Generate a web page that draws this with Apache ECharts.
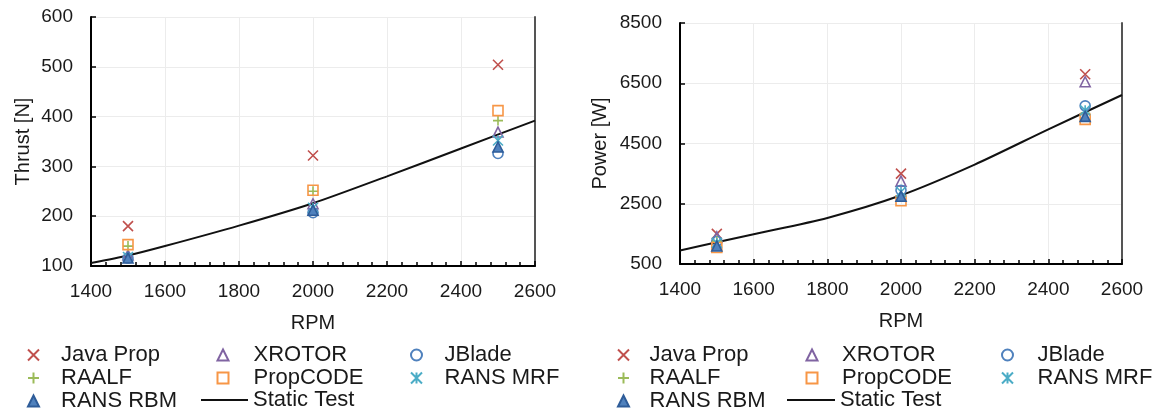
<!DOCTYPE html>
<html>
<head>
<meta charset="utf-8">
<script src="https://cdn.jsdelivr.net/npm/echarts@6/dist/echarts.min.js"></script>
<style>
html,body{margin:0;padding:0;background:#fff;}
#c{width:1159px;height:414px;}
</style>
</head>
<body>
<div id="c"></div>
<script>
// ---------- data ----------
const rpmPoints = [1500, 2000, 2500];
const xTicks = [1400, 1600, 1800, 2000, 2200, 2400, 2600];

// Thrust [N]
const thrustJavaProp = [180, 322, 504];
const thrustXROTOR   = [122, 225, 369];
const thrustJBlade   = [116, 207, 326];
const thrustRAALF    = [140, 250, 392];
const thrustPropCODE = [143, 252, 412];
const thrustRANSMRF  = [118, 217, 352];
const thrustRANSRBM  = [116, 212, 339];
const staticRpm      = [1400, 1500, 1600, 1800, 2000, 2200, 2400, 2600];
const staticThrust   = [106, 121, 140, 181, 226, 280, 336, 392];

// Power [W]
const powerJavaProp = [1500, 3500, 6800];
const powerXROTOR   = [1400, 3250, 6550];
const powerJBlade   = [1250, 2950, 5750];
const powerRAALF    = [1250, 2750, 5500];
const powerPropCODE = [1050, 2600, 5300];
const powerRANSMRF  = [1200, 2900, 5600];
const powerRANSRBM  = [1100, 2750, 5400];
const staticPower   = [950, 1220, 1490, 2030, 2780, 3800, 4970, 6110];

// ---------- styles ----------
const FONT = '"Liberation Sans", Arial, sans-serif';
const TXT = '#1a1a1a';
const styles = {
  'Java Prop': {symbol: 'path://M0,0L10,10M10,0L0,10', color: '#C0504D', fill: 'none', size: 10},
  'XROTOR':    {symbol: 'triangle', color: '#8064A2', fill: 'rgba(255,255,255,0)', size: 10},
  'JBlade':    {symbol: 'circle', color: '#4F81BD', fill: 'rgba(255,255,255,0)', size: 10},
  'RAALF':     {symbol: 'path://M5,0L5,10M0,5L10,5', color: '#9BBB59', fill: 'none', size: 10},
  'PropCODE':  {symbol: 'rect', color: '#F79646', fill: 'rgba(255,255,255,0)', size: 10},
  'RANS MRF':  {symbol: 'path://M0,0L10,10M10,0L0,10M5,0L5,10', color: '#4BACC6', fill: 'none', size: 10},
  'RANS RBM':  {symbol: 'triangle', color: '#2E5C99', fill: '#4F81BD', size: 10}
};

function pairs(xs, ys) { return xs.map((x, i) => [x, ys[i]]); }

function scatter(name, ys, gi) {
  const s = styles[name];
  return {
    type: 'scatter', name: name, xAxisIndex: gi, yAxisIndex: gi * 2,
    data: pairs(rpmPoints, ys),
    symbol: s.symbol, symbolSize: s.size,
    itemStyle: {color: s.fill, borderColor: s.color, borderWidth: 1.6, opacity: 1},
    emphasis: {disabled: true}, z: 5
  };
}

function xAxis(gi) {
  return {
    type: 'value', gridIndex: gi, min: 1400, max: 2600, interval: 200,
    name: 'RPM', nameLocation: 'middle', nameGap: 47,
    nameTextStyle: {fontFamily: FONT, fontSize: 20, color: TXT},
    axisLine: {show: true, onZero: false, lineStyle: {color: '#000', width: 2}},
    axisTick: {show: true, inside: true, length: 5, lineStyle: {color: '#000', width: 1.5}},
    minorTick: {show: true, splitNumber: 5, length: 4, lineStyle: {color: '#000', width: 1.5}},
    axisLabel: {fontFamily: FONT, fontSize: 19, color: TXT, margin: 16,
      formatter: v => xTicks.indexOf(v) >= 0 ? String(v) : ''},
    splitLine: {show: true, lineStyle: {color: '#ececec', width: 1}}
  };
}

function yAxis(gi, name, min, max, interval, gap) {
  return {
    type: 'value', gridIndex: gi, min: min, max: max, interval: interval,
    name: name, nameLocation: 'middle', nameGap: gap, nameRotate: 90,
    nameTextStyle: {fontFamily: FONT, fontSize: 20, color: TXT},
    axisLine: {show: true, onZero: false, lineStyle: {color: '#000', width: 2}},
    axisTick: {show: true, inside: true, length: 5, lineStyle: {color: '#000', width: 1.5}},
    axisLabel: {fontFamily: FONT, fontSize: 19, color: TXT, margin: 18, formatter: v => String(v)},
    splitLine: {show: true, lineStyle: {color: '#ececec', width: 1}}
  };
}

function rightBorder(gi, min, max) {
  return {
    type: 'value', gridIndex: gi, position: 'right', min: min, max: max,
    axisLine: {show: true, onZero: false, lineStyle: {color: '#555', width: 2}},
    axisTick: {show: false}, axisLabel: {show: false}, splitLine: {show: false}
  };
}

function legend(left, top, names, pad, w, h) {
  return {
    orient: 'vertical', left: left, top: top, padding: 0, itemGap: 1,
    itemWidth: w || 11, itemHeight: h || 11, selectedMode: false,
    data: names,
    textStyle: {fontFamily: FONT, fontSize: 22, color: TXT, lineHeight: 22, padding: [0, 0, 0, pad]}
  };
}

const series = [];
[[thrustJavaProp, 'Java Prop'], [thrustXROTOR, 'XROTOR'], [thrustJBlade, 'JBlade'],
 [thrustRAALF, 'RAALF'], [thrustPropCODE, 'PropCODE'], [thrustRANSMRF, 'RANS MRF'],
 [thrustRANSRBM, 'RANS RBM']].forEach(([d, n]) => series.push(scatter(n, d, 0)));
[[powerJavaProp, 'Java Prop'], [powerXROTOR, 'XROTOR'], [powerJBlade, 'JBlade'],
 [powerRAALF, 'RAALF'], [powerPropCODE, 'PropCODE'], [powerRANSMRF, 'RANS MRF'],
 [powerRANSRBM, 'RANS RBM']].forEach(([d, n]) => series.push(scatter(n, d, 1)));
series.push({type: 'line', name: 'Static Test', xAxisIndex: 0, yAxisIndex: 0,
  data: pairs(staticRpm, staticThrust), symbol: 'none', smooth: 0.25,
  lineStyle: {color: '#111', width: 2}, itemStyle: {color: '#111'}, z: 3});
series.push({type: 'line', name: 'Static Test', xAxisIndex: 1, yAxisIndex: 2,
  data: pairs(staticRpm, staticPower), symbol: 'none', smooth: 0.25,
  lineStyle: {color: '#111', width: 2}, itemStyle: {color: '#111'}, z: 3});

const staticItem = [{name: 'Static Test', icon: 'rect', itemStyle: {color: '#111', borderWidth: 0}}];

const chart = echarts.init(document.getElementById('c'), null, {renderer: 'canvas'});
chart.setOption({
  animation: false,
  backgroundColor: '#fff',
  grid: [
    {left: 91, top: 17, width: 444, height: 249},
    {left: 680, top: 23, width: 442, height: 241}
  ],
  xAxis: [xAxis(0), xAxis(1)],
  yAxis: [
    yAxis(0, 'Thrust [N]', 100, 600, 100, 58), rightBorder(0, 100, 600),
    yAxis(1, 'Power [W]', 500, 8500, 2000, 70), rightBorder(1, 500, 8500)
  ],
  legend: [
    legend(25.5, 344, ['Java Prop', 'RAALF', 'RANS RBM'], 17),
    legend(216.5, 344, ['XROTOR', 'PropCODE'], 20),
    legend(201, 389, staticItem, 0, 47, 2),
    legend(408.5, 344, ['JBlade', 'RANS MRF'], 17.5),
    legend(615.5, 344, ['Java Prop', 'RAALF', 'RANS RBM'], 15.5),
    legend(805.5, 344, ['XROTOR', 'PropCODE'], 19.5),
    legend(787, 389, staticItem, 0, 48, 2),
    legend(999.5, 344, ['JBlade', 'RANS MRF'], 19.5)
  ],
  series: series
});
</script>
</body>
</html>
